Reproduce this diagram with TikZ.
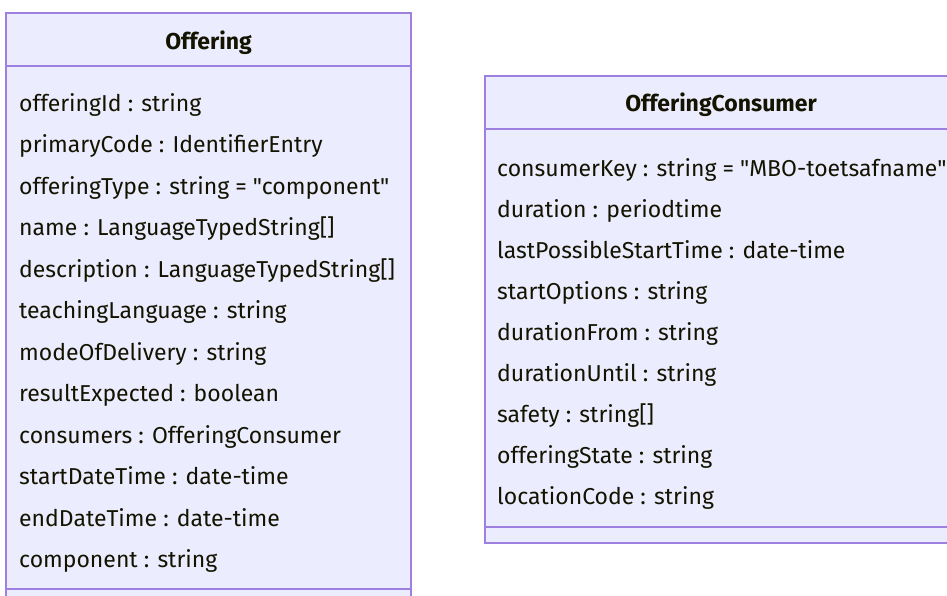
\documentclass[tikz,border=0pt]{standalone}
\usepackage{fontspec}
\setmainfont{Fira Sans}[Ligatures=TeXOff]
\definecolor{boxfill}{HTML}{ECECFF}
\definecolor{boxline}{HTML}{9E80E0}
\definecolor{txtcol}{HTML}{131300}
\tikzset{
  classbox/.style={draw=boxline, fill=boxfill, line width=1.7pt},
  sepline/.style={draw=boxline, line width=1.7pt},
  attr/.style={anchor=base west, inner sep=0pt, text=txtcol, font=\fontsize{23}{27}\selectfont},
  title/.style={anchor=base, inner sep=0pt, text=txtcol, font=\fontsize{23}{27}\selectfont\bfseries}
}
\begin{document}
\begin{tikzpicture}[x=1pt,y=-1pt]
\useasboundingbox (0,0) rectangle (947,595);
\clip (0,0) rectangle (947,595);
% Offering box
\draw[classbox] (6,13) rectangle (411,640);
\draw[sepline] (6,66) -- (411,66);
\draw[sepline] (6,589) -- (411,589);
\node[title] (offt) at (208.5,49) {Offering};
\foreach \t [count=\i from 0] in {
 {offeringId : string},
 {primaryCode : IdentifierEntry},
 {offeringType : string = "component"},
 {name : LanguageTypedString[]},
 {description : LanguageTypedString[]},
 {teachingLanguage : string},
 {modeOfDelivery : string},
 {resultExpected : boolean},
 {consumers : OfferingConsumer},
 {startDateTime : date-time},
 {endDateTime : date-time},
 {component : string}}
 \node[attr] (oa\i) at (19,{111+41.5*\i}) {\t};
% OfferingConsumer box
\draw[classbox] (485,76) rectangle (958,543);
\draw[sepline] (485,129) -- (958,129);
\draw[sepline] (485,527) -- (958,527);
\node[title] (oct) at (721,111) {OfferingConsumer};
\foreach \t [count=\i from 0] in {
 {consumerKey : string = "MBO-toetsafname"},
 {duration : periodtime},
 {lastPossibleStartTime : date-time},
 {startOptions : string},
 {durationFrom : string},
 {durationUntil : string},
 {safety : string[]},
 {offeringState : string},
 {locationCode : string}}
 \node[attr] (ca\i) at (497,{176+41.1*\i}) {\t};
\end{tikzpicture}
\end{document}
